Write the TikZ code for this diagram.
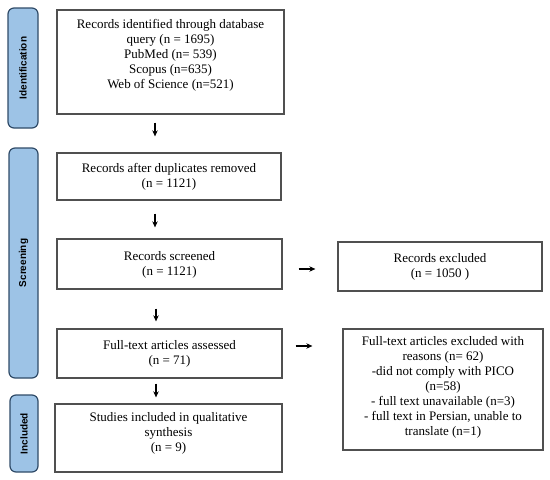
\documentclass[tikz,border=0pt]{standalone}
\usepackage{fontspec}
\setmainfont{Liberation Serif}
\setsansfont{Liberation Sans}
\usetikzlibrary{arrows.meta,calc}
\definecolor{sidefill}{HTML}{9DC3E6}
\definecolor{sidedraw}{HTML}{2F4B68}
\definecolor{boxdraw}{HTML}{505050}
\begin{document}
\begin{tikzpicture}[x=1pt,y=-1pt,
  box/.style={draw=boxdraw,line width=1.3pt,fill=white,inner sep=0pt},
  txt/.style={align=center,font=\fontsize{13}{15}\selectfont,inner sep=0pt},
  side/.style={draw=sidedraw,line width=1.2pt,fill=sidefill,rounded corners=6pt,inner sep=0pt},
  sidetxt/.style={rotate=90,font=\sffamily\bfseries\fontsize{10}{12}\selectfont,inner sep=0pt},
  arr/.style={line width=1.3pt,-{Stealth[length=6pt,width=5.5pt]}}]
\useasboundingbox (0,0) rectangle (550,480);
% side labels
\node[side,minimum width=30pt,minimum height=120pt] (s1) at (23,68) {};
\node[sidetxt] (s1t) at (s1.center) {Identification};
\node[side,minimum width=29pt,minimum height=230pt] (s2) at (23.5,263) {};
\node[sidetxt] (s2t) at (s2.center) {Screening};
\node[side,minimum width=28pt,minimum height=77pt] (s3) at (24,433.5) {};
\node[sidetxt] (s3t) at (s3.center) {Included};
% main boxes
\node[box,minimum width=227pt,minimum height=104pt] (b1) at (170.5,62) {};
\node[txt] (t1) at (170.5,55) {Records identified through database\\query (n = 1695)\\PubMed (n= 539)\\Scopus (n=635)\\Web of Science (n=521)};
\node[box,minimum width=224pt,minimum height=47pt] (b2) at (169,176.5) {};
\node[txt] (t2) at (b2.center) {Records after duplicates removed\\(n = 1121)};
\node[box,minimum width=225pt,minimum height=50pt] (b3) at (169.5,264) {};
\node[txt] (t3) at ([yshift=-1pt]b3.center) {Records screened\\(n = 1121)};
\node[box,minimum width=225pt,minimum height=49pt] (b4) at (169.5,353.5) {};
\node[txt] (t4) at (b4.center) {Full-text articles assessed\\(n = 71)};
\node[box,minimum width=227pt,minimum height=68pt] (b5) at (168.5,438) {};
\node[txt] (t5) at (168.5,433) {Studies included in qualitative\\synthesis\\(n = 9)};
% exclusion boxes
\node[box,minimum width=204pt,minimum height=49pt] (e1) at (440,266.5) {};
\node[txt] (et1) at (e1.center) {Records excluded\\(n = 1050 )};
\node[box,minimum width=200pt,minimum height=121pt] (e2) at (443,389.5) {};
\node[txt] (et2) at (443,387.5) {Full-text articles excluded with\\reasons (n= 62)\\-did not comply with PICO\\(n=58)\\- full text unavailable (n=3)\\- full text in Persian, unable to\\translate (n=1)};
% arrows (canvas yshift: negative = down)
\draw[arr] ([xshift=-15.5pt,yshift=-8pt]b1.south) -- ([xshift=-15.5pt,yshift=16pt]b1.south |- b2.north);
\draw[arr] ([xshift=-14pt,yshift=-13pt]b2.south) -- ([xshift=-14pt,yshift=11pt]b2.south |- b3.north);
\draw[arr] ([xshift=-13.5pt,yshift=-19pt]b3.south) -- ([xshift=-13.5pt,yshift=7pt]b3.south |- b4.north);
\draw[arr] ([xshift=-13.5pt,yshift=-5pt]b4.south) -- ([xshift=-13.5pt,yshift=6pt]b4.south |- b5.north);
\coordinate (r1a) at ([xshift=16pt,yshift=-5pt]b3.east);
\coordinate (r1b) at ([xshift=-22pt]r1a -| e1.west);
\draw[arr] (r1a) -- (r1b);
\coordinate (r2a) at ([xshift=13pt,yshift=7.5pt]b4.east);
\coordinate (r2b) at ([xshift=-30pt]r2a -| e2.west);
\draw[arr] (r2a) -- (r2b);
\end{tikzpicture}
\end{document}
